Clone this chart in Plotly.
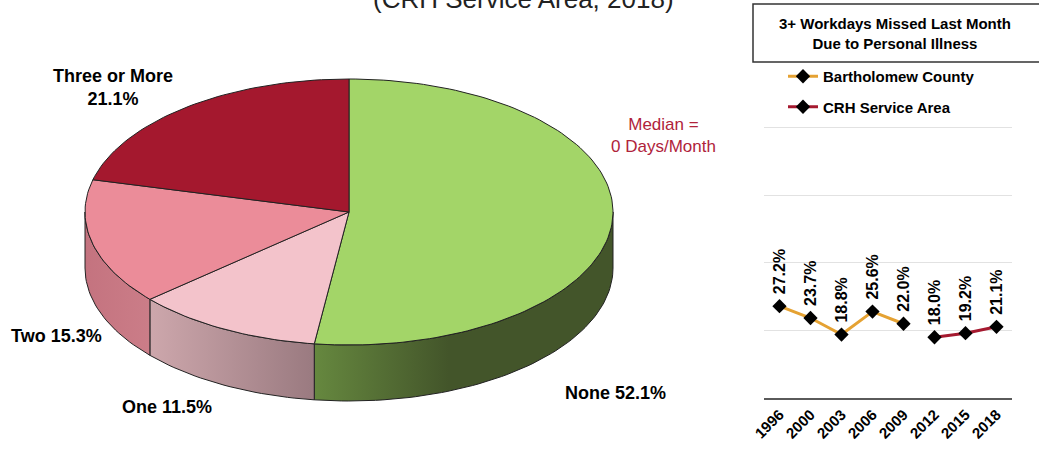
import numpy as np
import plotly.graph_objects as go

# Days missed last month (CRH Service Area, 2018)
slice_labels = ["None", "One", "Two", "Three or More"]
slice_pcts = [52.1, 11.5, 15.3, 21.1]
top_colors = ["#a3d568", "#f3c3cb", "#eb8c99", "#a4182e"]
side_colors = [
    [[0, "#66883f"], [0.45, "#43552a"], [1, "#43552a"]],
    [[0, "#cda7ac"], [1, "#9a7a80"]],
    [[0, "#c4737f"], [1, "#cb7d88"]],
    [[0, "#7a1222"], [1, "#7a1222"]],
]

# Trend: 3+ workdays missed last month
years = ["1996", "2000", "2003", "2006", "2009", "2012", "2015", "2018"]
county_years = ["1996", "2000", "2003", "2006", "2009"]
county_vals = [27.2, 23.7, 18.8, 25.6, 22.0]
crh_years = ["2012", "2015", "2018"]
crh_vals = [18.0, 19.2, 21.1]

W, H = 1039, 449
CX, CY, RX, RY, DEPTH = 349, 212, 264, 133, 56

FONT = "Liberation Sans, Arial, sans-serif"


def arc(a0, a1, drop=0.0):
    n = max(int(abs(a1 - a0) / 1.5) + 2, 3)
    t = np.radians(np.linspace(a0, a1, n))
    return CX + RX * np.sin(t), CY - RY * np.cos(t) + drop


fig = go.Figure()

total = sum(slice_pcts)
edges = np.concatenate([[0], np.cumsum(slice_pcts) / total * 360])

# side walls of the tilted pie (front half only)
for i in range(len(slice_pcts)):
    lo, hi = max(edges[i], 90), min(edges[i + 1], 270)
    if lo >= hi:
        continue
    xt, yt = arc(lo, hi)
    xb, yb = arc(hi, lo, DEPTH)
    xs = np.concatenate([xt, xb, xt[:1]])
    ys = np.concatenate([yt, yb, yt[:1]])
    fig.add_trace(go.Scatter(
        x=xs, y=ys, mode="lines", fill="toself",
        fillgradient=dict(type="horizontal", colorscale=side_colors[i]),
        line=dict(color="#222222", width=1),
        hoverinfo="skip", showlegend=False, xaxis="x", yaxis="y"))

# top faces
for i in range(len(slice_pcts)):
    xa, ya = arc(edges[i], edges[i + 1])
    xs = np.concatenate([[CX], xa, [CX]])
    ys = np.concatenate([[CY], ya, [CY]])
    fig.add_trace(go.Scatter(
        x=xs, y=ys, mode="lines", fill="toself", fillcolor=top_colors[i],
        line=dict(color="#222222", width=1),
        name=slice_labels[i], hoverinfo="name", showlegend=False,
        xaxis="x", yaxis="y"))

# trend lines
fig.add_trace(go.Scatter(
    x=county_years, y=county_vals, xaxis="x2", yaxis="y2",
    mode="lines+markers", name="Bartholomew County", legendgroup="a",
    line=dict(color="#e5a233", width=3),
    marker=dict(symbol="diamond", size=11, color="black")))
fig.add_trace(go.Scatter(
    x=crh_years, y=crh_vals, xaxis="x2", yaxis="y2",
    mode="lines+markers", name="CRH Service Area", legendgroup="b",
    line=dict(color="#a5192f", width=3),
    marker=dict(symbol="diamond", size=11, color="black")))

annotations = []
for yrs, vals in ((county_years, county_vals), (crh_years, crh_vals)):
    for yr, v in zip(yrs, vals):
        annotations.append(dict(
            x=years.index(yr), y=v, xref="x2", yref="y2", text=f"{v:.1f}%",
            textangle=-90, showarrow=False, xanchor="center",
            yanchor="bottom", yshift=10,
            font=dict(family=FONT, size=16, color="black", weight="bold")))

lab_font = dict(family=FONT, size=18, color="black", weight="bold")
pct = dict(zip(slice_labels, slice_pcts))


def px_note(x, y, text, font, **kw):
    return dict(x=x, y=y, xref="x", yref="y", showarrow=False, text=text,
                font=font, xanchor="center", yanchor="middle", **kw)


annotations += [
    px_note(113, 87, f"Three or More<br>{pct['Three or More']:.1f}%", lab_font),
    px_note(56, 336, f"Two {pct['Two']:.1f}%", lab_font),
    px_note(167, 407, f"One {pct['One']:.1f}%", lab_font),
    px_note(615, 393, f"None {pct['None']:.1f}%", lab_font),
    px_note(663, 135, "Median =<br>0 Days/Month",
            dict(family=FONT, size=17, color="#b0233b")),
    dict(x=523, y=16, xref="x", yref="y", xanchor="center", yanchor="bottom",
         showarrow=False, font=dict(family=FONT, size=26, color="#222222"),
         text="(CRH Service Area, 2018)"),
    px_note(895, 33, "3+ Workdays Missed Last Month<br>Due to Personal Illness",
            dict(family=FONT, size=15, color="black", weight="bold")),
]

fig.update_layout(
    width=W, height=H,
    margin=dict(l=0, r=0, t=0, b=0, autoexpand=False),
    paper_bgcolor="white", plot_bgcolor="rgba(0,0,0,0)",
    showlegend=True,
    legend=dict(x=783 / W, y=1 - 60 / H, xanchor="left", yanchor="top",
                bgcolor="rgba(0,0,0,0)", tracegroupgap=8,
                font=dict(family=FONT, size=15, color="black", weight="bold")),
    xaxis=dict(domain=[0, 1], range=[0, W], visible=False, fixedrange=True,
               automargin=False),
    yaxis=dict(domain=[0, 1], range=[H, 0], visible=False, fixedrange=True,
               automargin=False),
    xaxis2=dict(domain=[764 / W, 1012 / W], anchor="y2", type="category",
                categoryorder="array", categoryarray=years, range=[-0.5, 7.5],
                showline=True, linecolor="#5a5a5a", linewidth=2,
                showgrid=False, ticks="", tickangle=-45, automargin=False,
                tickfont=dict(family=FONT, size=15, color="black", weight="bold")),
    yaxis2=dict(domain=[1 - 398 / H, 1 - 126.3 / H], anchor="x2",
                range=[0, 80.5], dtick=20, showticklabels=False,
                showgrid=True, gridcolor="#e2e2e2", gridwidth=1,
                zeroline=False, automargin=False),
    shapes=[dict(type="rect", xref="x", yref="y",
                 x0=753, x1=W + 10, y0=62, y1=4,
                 line=dict(color="#333333", width=1.5))],
    annotations=annotations,
)

fig.write_html("out.html")
